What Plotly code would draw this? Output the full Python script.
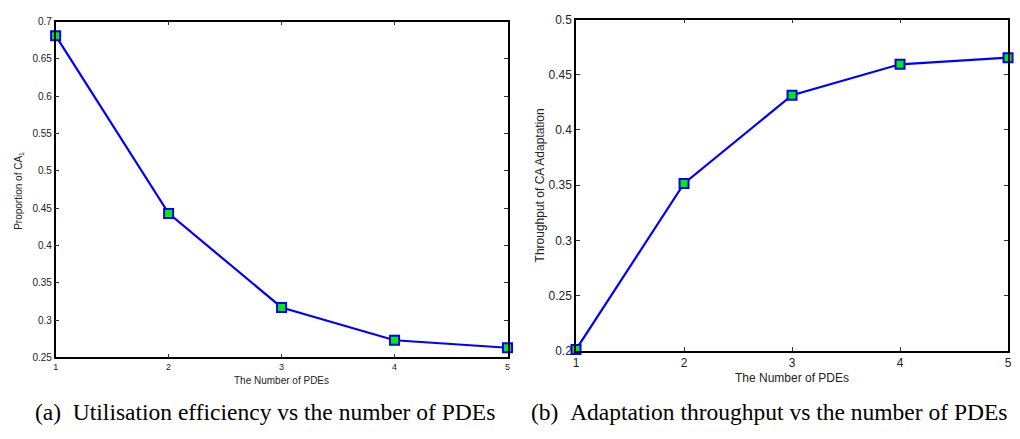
import plotly.graph_objects as go

pdes = [1, 2, 3, 4, 5]
proportion_ca1 = [0.681, 0.443, 0.317, 0.273, 0.263]
throughput = [0.201, 0.3515, 0.4315, 0.4595, 0.4655]

left_yticks = [0.25, 0.3, 0.35, 0.4, 0.45, 0.5, 0.55, 0.6, 0.65, 0.7]
right_yticks = [0.2, 0.25, 0.3, 0.35, 0.4, 0.45, 0.5]

W, H = 1020, 439
def px(x): return x / W
def py(y): return 1 - y / H

line = dict(color="#0000ff", width=2.2)
marker = dict(symbol="square", size=9, color="#00ee00", line=dict(color="#0000ff", width=2))

fig = go.Figure()
fig.add_trace(go.Scatter(x=pdes, y=proportion_ca1, mode="lines+markers", line=line,
                         marker=marker, xaxis="x", yaxis="y", cliponaxis=False, showlegend=False))
fig.add_trace(go.Scatter(x=pdes, y=throughput, mode="lines+markers", line=line,
                         marker=marker, xaxis="x2", yaxis="y2", cliponaxis=False, showlegend=False))

axis_common = dict(showline=True, linecolor="black", linewidth=1.5, mirror="ticks",
                   ticks="inside", ticklen=4, tickcolor="#333", showgrid=False, zeroline=False)

fig.update_layout(
    width=W, height=H, margin=dict(l=0, r=0, t=0, b=0),
    paper_bgcolor="white", plot_bgcolor="white",
    font=dict(family="Liberation Sans, Arial, sans-serif", color="#222"),
    xaxis=dict(domain=[px(53), px(508)], range=[1, 5], tickvals=pdes, anchor="y",
               tickfont=dict(size=9), **axis_common),
    yaxis=dict(domain=[py(362), py(15)], range=[0.25, 0.7], tickvals=left_yticks, anchor="x",
               tickfont=dict(size=10), **axis_common),
    xaxis2=dict(domain=[px(577), px(1012)], range=[1, 5], tickvals=pdes, anchor="y2",
                tickfont=dict(size=12), **axis_common),
    yaxis2=dict(domain=[py(355), py(13)], range=[0.2, 0.5], tickvals=right_yticks, anchor="x2",
                tickfont=dict(size=12), **axis_common),
)

ann = [
    dict(text="The Number of PDEs", x=px(280), y=py(386), font=dict(size=10)),
    dict(text="Proportion of CA<sub>1</sub>", x=px(16), y=py(190), textangle=-90, font=dict(size=10)),
    dict(text="The Number of PDEs", x=px(794), y=py(383), font=dict(size=12)),
    dict(text="Throughput of CA Adaptation", x=px(541), y=py(184), textangle=-90, font=dict(size=12)),
    dict(text="(a)\u00a0\u00a0Utilisation efficiency vs the number of PDEs", x=px(264), y=py(418),
         font=dict(size=23.5, family="Liberation Serif, Times New Roman, serif", color="black")),
    dict(text="(b)\u00a0\u00a0Adaptation throughput vs the number of PDEs", x=px(771), y=py(418),
         font=dict(size=23.5, family="Liberation Serif, Times New Roman, serif", color="black")),
]
for a in ann:
    fig.add_annotation(xref="paper", yref="paper", showarrow=False, xanchor="center", yanchor="middle", **a)

fig.write_html("out.html")
